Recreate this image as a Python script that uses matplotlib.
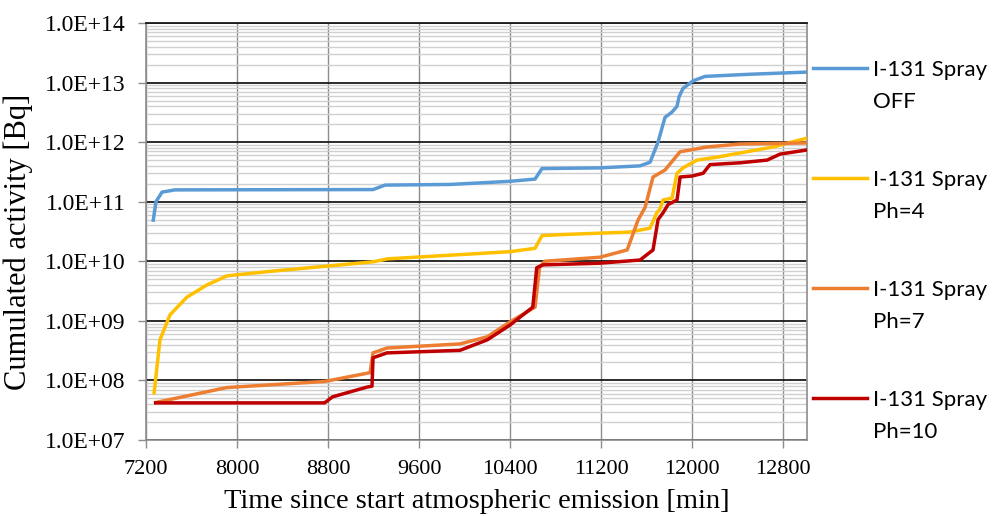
import numpy as np
import matplotlib.pyplot as plt
from matplotlib.lines import Line2D
from matplotlib.ticker import FixedLocator, FuncFormatter, LogLocator, NullFormatter

# cumulated activity curves (time in min, activity in Bq)
off_t = [7262, 7288, 7341, 7455, 9196, 9301, 9872, 10400, 10620, 10681, 11191, 11543,
         11631, 11701, 11762, 11824, 11868, 11886, 11921, 12009, 12114, 12510, 13011]
off_a = [4.6e10, 1.0e11, 1.45e11, 1.58e11, 1.6e11, 1.9e11, 1.95e11, 2.2e11, 2.4e11, 3.6e11, 3.7e11, 4.0e11,
         4.6e11, 1.0e12, 2.6e12, 3.2e12, 4.0e12, 5.8e12, 8.0e12, 1.07e13, 1.27e13, 1.38e13, 1.5e13]

ph4_t = [7270, 7323, 7411, 7560, 7735, 7912, 8300, 8790, 9196, 9327, 10400, 10620, 10681, 10840,
         11455, 11631, 11690, 11718, 11745, 11824, 11868, 11921, 12044, 12220, 12712, 13011]
ph4_a = [5.8e7, 4.8e8, 1.26e9, 2.5e9, 4.0e9, 5.7e9, 6.8e9, 8.3e9, 9.8e9, 1.1e10, 1.45e10, 1.65e10, 2.7e10, 2.8e10,
         3.1e10, 3.6e10, 6.5e10, 7.5e10, 1.07e11, 1.15e11, 3.0e11, 3.7e11, 5.0e11, 5.6e11, 8.3e11, 1.17e12]

ph7_t = [7270, 7912, 8770, 9170, 9196, 9319, 9960, 10200, 10400, 10620, 10660, 10706, 11191,
         11430, 11525, 11587, 11657, 11762, 11895, 12132, 12422, 13011]
ph7_a = [4.2e7, 7.6e7, 9.6e7, 1.35e8, 2.9e8, 3.5e8, 4.1e8, 5.4e8, 9.6e8, 1.7e9, 8.0e9, 1.0e10, 1.17e10,
         1.55e10, 4.9e10, 8.0e10, 2.6e11, 3.4e11, 6.9e11, 8.3e11, 9.3e11, 9.7e11]

ph10_t = [7270, 8770, 8840, 9140, 9187, 9196, 9319, 9960, 10200, 10400, 10600, 10635, 10690, 11191,
          11543, 11657, 11701, 11745, 11790, 11868, 11895, 12000, 12097, 12158, 12422, 12660, 12774, 13011]
ph10_a = [4.2e7, 4.2e7, 5.3e7, 7.7e7, 8.0e7, 2.4e8, 2.9e8, 3.2e8, 4.8e8, 8.5e8, 1.7e9, 7.8e9, 8.7e9, 9.3e9,
          1.05e10, 1.55e10, 5.0e10, 6.5e10, 9.0e10, 1.07e11, 2.6e11, 2.7e11, 3.0e11, 4.2e11, 4.5e11, 5.0e11, 6.3e11, 7.4e11]

labels = ["I-131 Spray\nOFF", "I-131 Spray\nPh=4", "I-131 Spray\nPh=7", "I-131 Spray\nPh=10"]
colors = ["#5B9BD5", "#FFC000", "#ED7D31", "#C00000"]
x_ticks = [7200, 8000, 8800, 9600, 10400, 11200, 12000, 12800]

fig = plt.figure(figsize=(9.95, 5.16), dpi=100)
ax = fig.add_axes([0.1467, 0.1473, 0.6643, 0.8081])

series = [(off_t, off_a), (ph4_t, ph4_a), (ph7_t, ph7_a), (ph10_t, ph10_a)]
for (t, a), c in zip(series, colors):
    ax.plot(t, a, color=c, lw=2.5, solid_capstyle='butt', solid_joinstyle='round', zorder=3)

ax.set_yscale('log')
ax.set_ylim(1e7, 1e14)
ax.set_xlim(7200, 13010)

ax.xaxis.set_major_locator(FixedLocator(x_ticks))
ax.yaxis.set_major_locator(LogLocator(base=10, numticks=20))
ax.yaxis.set_minor_locator(LogLocator(base=10, subs=np.arange(2, 10), numticks=20))
ax.yaxis.set_minor_formatter(NullFormatter())
ax.yaxis.set_major_formatter(FuncFormatter(lambda v, p: "1.0E+%02d" % round(np.log10(v))))

ax.grid(which='minor', axis='y', color='#d0d0d0', lw=1.0, zorder=0)
ax.grid(which='major', axis='y', color='#1a1a1a', lw=1.3, zorder=1)
ax.grid(which='major', axis='x', color='#8c8c8c', lw=1.0, zorder=1)
ax.set_axisbelow(True)

for s in ['left', 'bottom', 'right']:
    ax.spines[s].set_color('#8c8c8c')
    ax.spines[s].set_linewidth(1.2)
ax.spines['top'].set_color('#1a1a1a')
ax.spines['top'].set_linewidth(1.3)

ax.tick_params(axis='both', which='major', direction='out', length=5.5, color='#8c8c8c', width=1, pad=9)
ax.tick_params(axis='x', labelsize=16)
ax.tick_params(axis='y', labelsize=17)
ax.tick_params(axis='y', which='minor', length=0)
for lab in ax.get_xticklabels() + ax.get_yticklabels():
    lab.set_fontfamily('Liberation Serif')

ax.set_xlabel("Time since start atmospheric emission [min]", fontfamily='Liberation Serif', fontsize=20.5)
ax.set_ylabel("Cumulated activity [Bq]", fontfamily='Liberation Serif', fontsize=22)
ax.xaxis.set_label_coords(0.5, -0.117)
ax.yaxis.set_label_coords(-0.171, 0.475)

# legend on the right, drawn by hand so the line sits beside the first text row
W, H = 995, 516
leg_y = [68, 178, 288, 398]
for y, lab, c in zip(leg_y, labels, colors):
    fig.add_artist(Line2D([813 / W, 867 / W], [1 - y / H, 1 - y / H], color=c, lw=2.5))
    first, second = lab.split("\n")
    fig.text(873 / W, 1 - (y + 8) / H, first, fontfamily='Lato', fontsize=16, va='baseline', ha='left')
    fig.text(873 / W, 1 - (y + 40) / H, second, fontfamily='Lato', fontsize=16, va='baseline', ha='left')

fig.savefig("out.png", dpi=100)
